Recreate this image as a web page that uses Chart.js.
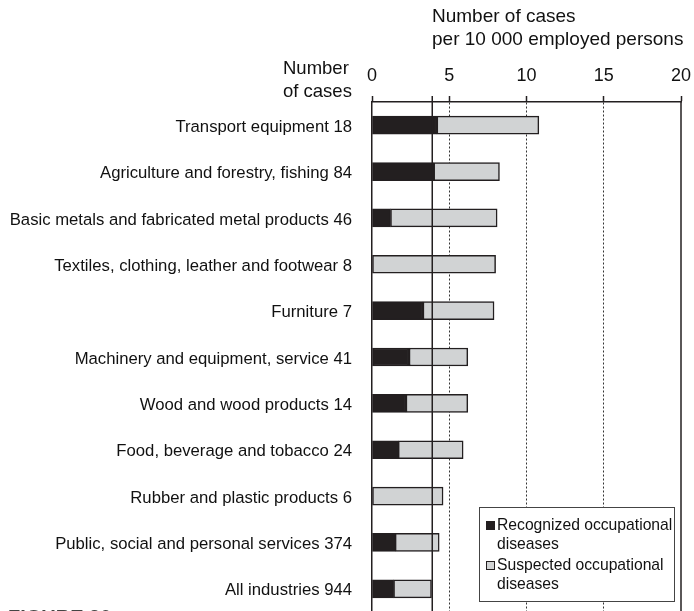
<!DOCTYPE html>
<html>
<head>
<meta charset="utf-8">
<script src="https://cdn.jsdelivr.net/npm/chart.js@4.4.0/dist/chart.umd.min.js"></script>
<style>
  html, body { margin: 0; padding: 0; background: #fff; overflow: hidden; }
  #wrap { width: 694px; height: 612px; position: relative; }
  canvas { display: block; }
</style>
</head>
<body>
<div id="wrap"><canvas id="chart" width="694" height="612"></canvas></div>
<script>
// data
const CATEGORIES = [
  "Transport equipment",
  "Agriculture and forestry, fishing",
  "Basic metals and fabricated metal products",
  "Textiles, clothing, leather and footwear",
  "Furniture",
  "Machinery and equipment, service",
  "Wood and wood products",
  "Food, beverage and tobacco",
  "Rubber and plastic products",
  "Public, social and personal services",
  "All industries",
];
const CASES = [18, 84, 46, 8, 7, 41, 14, 24, 6, 374, 944];
const RECOGNIZED = [4.2, 4.0, 1.2, 0, 3.3, 2.4, 2.2, 1.7, 0, 1.5, 1.4];
const SUSPECTED = [6.6, 4.25, 6.9, 8.0, 4.6, 3.8, 4.0, 4.2, 4.6, 2.85, 2.45];
const X_TICKS = [0, 5, 10, 15, 20];
const ALL_INDUSTRIES_RATE = 3.9;
const SERIES_NAMES = ["Recognized occupational diseases", "Suspected occupational diseases"];
const X_TITLE = ["Number of cases", "per 10 000 employed persons"];
const Y_TITLE = ["Number", "of cases"];
const FIGURE_LABEL = "FIGURE 30";

const FONT = "'Liberation Sans', Arial, sans-serif";
const DARK = "#231f20";
const GREY = "#d1d3d4";

// labels with the number of cases
let labels = CATEGORIES.map((c, i) => c + " " + CASES[i]);

// texts + extra lines
const extrasPlugin = {
  id: "extras",
  afterDatasetsDraw(chart) {
    const ctx = chart.ctx;
    const area = chart.chartArea;
    const x = chart.scales.x;

    ctx.save();
    ctx.strokeStyle = DARK;
    ctx.lineWidth = 1.5;
    // right frame
    ctx.beginPath();
    ctx.moveTo(area.right, area.top);
    ctx.lineTo(area.right, area.bottom);
    ctx.stroke();
    // all industries line
    let ax = x.getPixelForValue(ALL_INDUSTRIES_RATE);
    ctx.beginPath();
    ctx.moveTo(ax, area.top - 6);
    ctx.lineTo(ax, area.bottom);
    ctx.stroke();
    ctx.restore();
  },
  afterDraw(chart) {
    const ctx = chart.ctx;
    ctx.save();
    ctx.fillStyle = "#111";
    ctx.textAlign = "left";
    ctx.textBaseline = "alphabetic";
    ctx.font = "19px " + FONT;
    ctx.fillText(X_TITLE[0], 432, 22);
    ctx.fillText(X_TITLE[1], 432, 45);
    ctx.font = "18.5px " + FONT;
    ctx.fillText(Y_TITLE[0], 283, 74);
    ctx.fillText(Y_TITLE[1], 283, 97);

    // legend
    let lx = 479, ly = 507, lw = 195, lh = 94;
    ctx.fillStyle = "#fff";
    ctx.fillRect(lx, ly, lw, lh);
    ctx.strokeStyle = "#444";
    ctx.lineWidth = 1;
    ctx.strokeRect(lx + 0.5, ly + 0.5, lw, lh);
    ctx.font = "15.7px " + FONT;
    chart.data.datasets.forEach((ds, i) => {
      let top = ly + 10 + i * 40;
      ctx.fillStyle = ds.backgroundColor;
      ctx.fillRect(lx + 7, top + 4, 9, 9);
      ctx.strokeStyle = DARK;
      ctx.strokeRect(lx + 7.5, top + 4.5, 8, 8);
      ctx.fillStyle = "#111";
      let words = ds.label.split(" ");
      let line1 = words.slice(0, -1).join(" ");
      let line2 = words[words.length - 1];
      ctx.fillText(line1, lx + 18, top + 13);
      ctx.fillText(line2, lx + 18, top + 32);
    });

    // figure caption (cut by the page bottom)
    ctx.fillStyle = "#444";
    ctx.font = "bold 20px " + FONT;
    ctx.textBaseline = "top";
    ctx.fillText(FIGURE_LABEL, 8, 608);
    ctx.restore();
  },
};

let ctx = document.getElementById("chart").getContext("2d");

let myChart = new Chart(ctx, {
  type: "bar",
  data: {
    labels: labels,
    datasets: [
      {
        label: SERIES_NAMES[0],
        data: RECOGNIZED,
        backgroundColor: DARK,
        borderColor: DARK,
        borderWidth: 1.5,
        borderSkipped: false,
        barThickness: 18,
      },
      {
        label: SERIES_NAMES[1],
        data: SUSPECTED,
        backgroundColor: GREY,
        borderColor: DARK,
        borderWidth: 1.5,
        borderSkipped: false,
        barThickness: 18,
      },
    ],
  },
  options: {
    indexAxis: "y",
    responsive: false,
    animation: false,
    layout: { padding: { left: 0, right: 13, top: 0, bottom: 0 } },
    plugins: {
      legend: { display: false },
      tooltip: { enabled: false },
      title: { display: false },
    },
    scales: {
      x: {
        type: "linear",
        position: "top",
        stacked: true,
        min: 0,
        max: 20,
        afterBuildTicks: (scale) => {
          scale.ticks = X_TICKS.map((v) => ({ value: v }));
        },
        afterFit: (scale) => {
          scale.height = 102;
          scale.paddingLeft = 0;
          scale.paddingRight = 0;
        },
        ticks: {
          font: { family: FONT, size: 18 },
          color: "#111",
          padding: 9,
          maxRotation: 0,
        },
        grid: {
          color: (c) => (c.tick && c.tick.value > 0 && c.tick.value < 20 ? "#333" : "rgba(0,0,0,0)"),
          lineWidth: 1,
          tickLength: 6,
          tickColor: DARK,
          tickWidth: 1.5,
        },
        border: { display: true, color: DARK, width: 1.5, dash: [2, 2] },
      },
      y: {
        stacked: true,
        afterFit: (scale) => {
          scale.width = 372;
          scale.paddingTop = 0;
          scale.paddingBottom = 0;
        },
        ticks: {
          font: { family: FONT, size: 16.7 },
          color: "#111",
          padding: 20,
          labelOffset: 2,
        },
        grid: { display: false, drawTicks: false },
        border: { display: true, color: DARK, width: 1.5 },
      },
    },
  },
  plugins: [extrasPlugin],
});
</script>
</body>
</html>
